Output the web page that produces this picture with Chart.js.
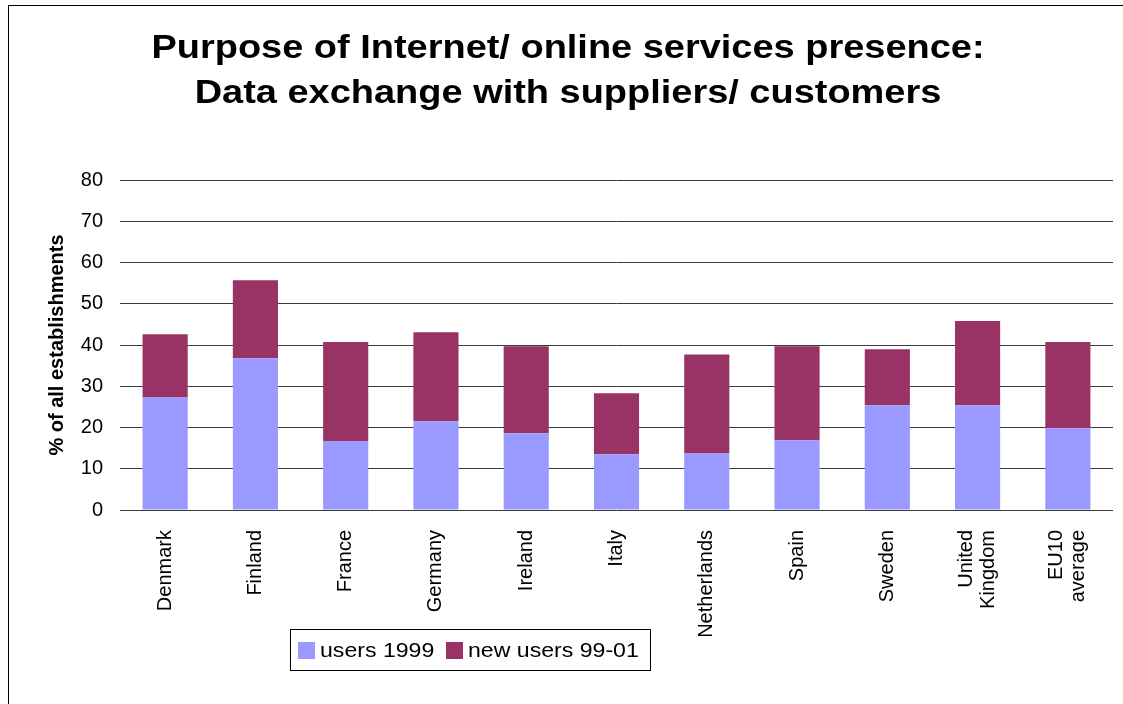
<!DOCTYPE html>
<html>
<head>
<meta charset="utf-8">
<script src="https://cdn.jsdelivr.net/npm/chart.js@4"></script>
<style>
    html, body { margin: 0; padding: 0; background: #fff; }
    #chart-wrap { width: 1123px; height: 704px; }
</style>
</head>
<body>
<div id="chart-wrap"><canvas id="purpose-chart" width="1123" height="704"></canvas></div>
<script>
// 国家 / 分类
const categories = ['Denmark', 'Finland', 'France', 'Germany', 'Ireland', 'Italy',
    'Netherlands', 'Spain', 'Sweden', ['United', 'Kingdom'], ['EU10', 'average']];

// 1999 年已有用户 (%)
const users1999 = [27.3, 36.8, 16.6, 21.5, 18.6, 13.5, 13.7, 16.9, 25.4, 25.4, 19.8];

// 99-01 新增用户 (%)
const newUsers9901 = [15.3, 18.9, 24.1, 21.6, 21.1, 14.8, 24.0, 22.8, 13.6, 20.4, 20.9];

// 图例名称
const seriesNames = ['users 1999', 'new users 99-01'];

// 标题两行
const titleLines = ['Purpose of Internet/ online services presence:',
    'Data exchange with suppliers/ customers'];

const yTitle = '% of all establishments';

const FONT = "'Liberation Sans', Arial, sans-serif";

// 横向拉伸的文字
function drawWideText(ctx, text, x, y, sx) {
    ctx.save();
    ctx.translate(x, y);
    ctx.scale(sx, 1);
    ctx.fillText(text, 0, 0);
    ctx.restore();
}

// 多行刻度标签居中到柱子中心
const centerMultiLine = {
    id: 'centerMultiLine',
    beforeDraw(chart) {
        const scale = chart.scales.x;
        const items = scale.getLabelItems(chart.chartArea);
        items.forEach(item => {
            if (Array.isArray(item.label) && !item._shifted) {
                const lh = item.font.lineHeight;
                item.options.translation[0] -= (item.label.length - 1) * lh / 2;
                item._shifted = true;
            }
        });
    }
};

// 外框 + 标题 + 图例
const frameAndLegend = {
    id: 'frameAndLegend',
    afterDraw(chart) {
        const ctx = chart.ctx;
        ctx.save();

        // 外框
        ctx.strokeStyle = '#000';
        ctx.lineWidth = 1;
        ctx.strokeRect(8.5, 5.5, 1200, 800);

        // 标题
        ctx.fillStyle = '#000';
        ctx.font = 'bold 33px ' + FONT;
        ctx.textAlign = 'center';
        ctx.textBaseline = 'alphabetic';
        drawWideText(ctx, titleLines[0], 568, 58, 1.15);
        drawWideText(ctx, titleLines[1], 568, 103, 1.15);

        // 图例
        ctx.font = '21px ' + FONT;
        ctx.textAlign = 'left';
        ctx.fillStyle = '#fff';
        ctx.fillRect(290, 629, 360, 41);
        ctx.strokeStyle = '#000';
        ctx.strokeRect(290.5, 629.5, 360, 41);

        const itemX = [298, 446];
        chart.data.datasets.forEach((ds, i) => {
            ctx.fillStyle = ds.backgroundColor;
            ctx.fillRect(itemX[i], 642, 17, 17);
            ctx.fillStyle = '#000';
            drawWideText(ctx, ds.label, itemX[i] + 22, 657, 1.1);
        });
        ctx.restore();
    }
};

const ctx = document.getElementById('purpose-chart').getContext('2d');

new Chart(ctx, {
    type: 'bar',
    data: {
        labels: categories,
        datasets: [{
            label: seriesNames[0],
            data: users1999,
            backgroundColor: '#9999FF'
        }, {
            label: seriesNames[1],
            data: newUsers9901,
            backgroundColor: '#993366'
        }]
    },
    options: {
        responsive: false,
        animation: false,
        layout: {
            padding: { left: 0, right: 10, top: 180, bottom: 0 }
        },
        datasets: {
            bar: {
                categoryPercentage: 1.0,
                barPercentage: 0.5
            }
        },
        scales: {
            x: {
                stacked: true,
                grid: { display: false, drawTicks: false },
                border: { display: false },
                ticks: {
                    color: '#000',
                    font: { family: FONT, size: 20, lineHeight: 1.1 },
                    minRotation: 90,
                    maxRotation: 90,
                    autoSkip: false,
                    padding: 20
                },
                afterFit(scale) {
                    scale.height = 194;
                    scale.paddingLeft = 0;
                    scale.paddingRight = 0;
                }
            },
            y: {
                stacked: true,
                min: 0,
                max: 80,
                grid: { color: '#3a3a3a', lineWidth: 1, drawTicks: false },
                border: { display: false },
                ticks: {
                    stepSize: 10,
                    color: '#000',
                    padding: 17,
                    font: { family: FONT, size: 20 }
                },
                title: {
                    display: true,
                    text: yTitle,
                    color: '#000',
                    font: { family: FONT, size: 20, weight: 'bold' },
                    padding: { top: 45, bottom: 0 }
                },
                afterFit(scale) {
                    scale.width = 120;
                }
            }
        },
        plugins: {
            legend: { display: false },
            title: { display: false },
            tooltip: { enabled: false }
        }
    },
    plugins: [centerMultiLine, frameAndLegend]
});
</script>
</body>
</html>
